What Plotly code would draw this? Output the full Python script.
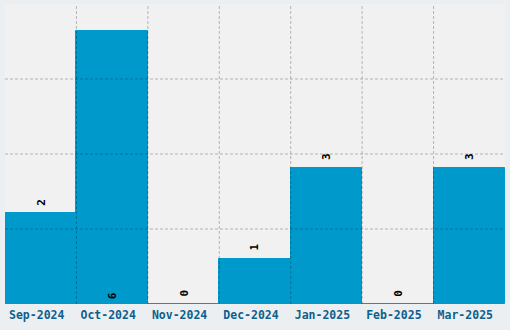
import plotly.graph_objects as go

months = ["Sep-2024", "Oct-2024", "Nov-2024", "Dec-2024", "Jan-2025", "Feb-2025", "Mar-2025"]
counts = [2, 6, 0, 1, 3, 0, 3]

BAR = "#0099cc"
GRID = "rgba(0,0,0,0.25)"
ymax = max(counts) * 1.1
n_grid = 4
grid_vals = [ymax * k / n_grid for k in range(1, n_grid)]

fig = go.Figure(
    go.Bar(
        x=months,
        y=counts,
        marker=dict(color=BAR, line=dict(color=BAR, width=1)),
        cliponaxis=False,
        hoverinfo="skip",
    )
)

# value labels: rotated, above bar top; tallest bar labelled inside at its base
for m, v in zip(months, counts):
    inside = v == max(counts)
    fig.add_annotation(
        x=m, y=0 if inside else v, text=str(v), showarrow=False,
        textangle=-90, xanchor="center", yanchor="middle",
        yshift=8 if inside else 11,
        font=dict(family="DejaVu Sans Mono", size=11, color="#000000", weight="bold"),
    )

shapes = []
for g in grid_vals:
    shapes.append(dict(type="line", xref="paper", x0=0, x1=1, yref="y", y0=g, y1=g,
                       line=dict(color=GRID, width=1, dash="3px,2px"), layer="above"))
for i in range(1, len(months)):
    shapes.append(dict(type="line", xref="x", x0=i - 0.5, x1=i - 0.5, yref="paper", y0=0, y1=1,
                       line=dict(color=GRID, width=1, dash="3px,2px"), layer="above"))

fig.update_layout(
    width=510,
    height=330,
    margin=dict(l=5, r=5, t=4, b=26),
    paper_bgcolor="#eceff1",
    plot_bgcolor="#f1f1f1",
    bargap=0,
    showlegend=False,
    shapes=shapes,
    xaxis=dict(
        showgrid=False,
        ticks="",
        ticklabelstandoff=2,
        ticklabelshift=-4,
        tickfont=dict(family="DejaVu Sans Mono", size=11.5, color="#0e5f8e", weight="bold"),
        showline=False,
        zeroline=False,
    ),
    yaxis=dict(
        range=[0, ymax],
        showgrid=False,
        showticklabels=False,
        zeroline=False,
        showline=False,
    ),
)

fig.write_html("out.html")
